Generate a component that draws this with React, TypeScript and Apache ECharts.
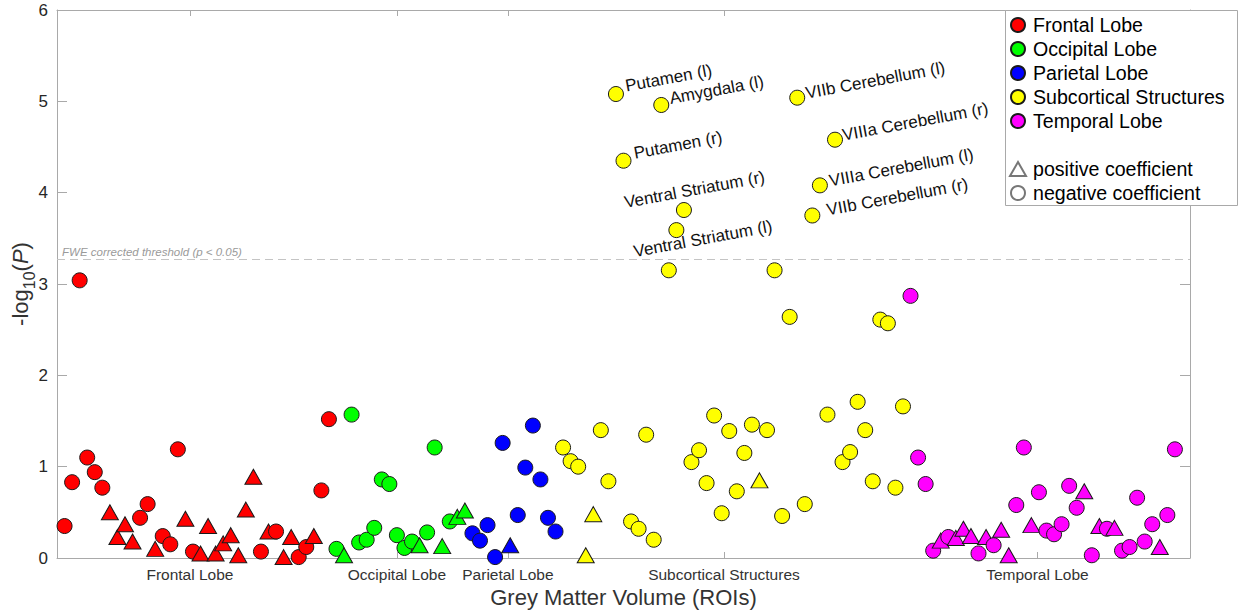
import React, { useEffect, useRef } from "react";
import * as echarts from "echarts";

// ---------- data ----------
const groupNames = ["Frontal Lobe", "Occipital Lobe", "Parietal Lobe", "Subcortical Structures", "Temporal Lobe"];
const groupColors = ["#ff0000", "#00ff00", "#0000ff", "#ffff00", "#ff00ff"];
const groupTickPos = [17.6, 45, 59.7, 88.3, 129.8];

// ROI index, -log10(P), sign (1 = positive coefficient / triangle, 0 = negative / circle)
const frontalIdx = [1, 2, 3, 4, 5, 6, 7, 8, 9, 10, 11, 12, 13, 14, 15, 16, 17, 18, 19, 20, 21, 22, 23, 24, 25, 26, 27, 28, 29, 30, 31, 32, 33, 34, 35, 36];
const frontalVal = [0.35, 0.83, 3.04, 1.10, 0.94, 0.77, 0.50, 0.23, 0.37, 0.18, 0.44, 0.59, 0.10, 0.24, 0.15, 1.19, 0.43, 0.07, 0.05, 0.35, 0.05, 0.16, 0.25, 0.03, 0.53, 0.89, 0.07, 0.29, 0.29, 0.01, 0.23, 0.01, 0.12, 0.24, 0.74, 1.52];
const frontalPos = [0, 0, 0, 0, 0, 0, 1, 1, 1, 1, 0, 0, 1, 0, 0, 0, 1, 0, 1, 1, 1, 1, 1, 1, 1, 1, 0, 1, 0, 1, 1, 0, 0, 1, 0, 0];

const occipitalIdx = [37, 38, 39, 40, 41, 42, 43, 44, 45, 46, 47, 48, 49, 50, 51, 52, 53, 54];
const occipitalVal = [0.10, 0.03, 1.57, 0.17, 0.20, 0.33, 0.86, 0.81, 0.25, 0.11, 0.18, 0.14, 0.28, 1.21, 0.13, 0.40, 0.45, 0.52];
const occipitalPos = [0, 1, 0, 0, 0, 0, 0, 0, 0, 0, 0, 1, 0, 0, 1, 0, 1, 1];

const parietalIdx = [55, 56, 57, 58, 59, 60, 61, 62, 63, 64, 65, 66];
const parietalVal = [0.27, 0.19, 0.36, 0.01, 1.26, 0.14, 0.47, 0.99, 1.45, 0.86, 0.44, 0.29];
const parietalPos = [0, 0, 0, 0, 0, 1, 0, 0, 0, 0, 0, 0];

const subcorticalIdx = [67, 68, 69, 70, 71, 72, 73, 74, 75, 76, 77, 78, 79, 80, 81, 82, 83, 84, 85, 86, 87, 88, 89, 90, 91, 92, 93, 94, 95, 96, 97, 98, 99, 100, 101, 102, 103, 104, 105, 106, 107, 108, 109, 110, 111, 112];
const subcorticalVal = [1.21, 1.06, 1.00, 0.03, 0.48, 1.40, 0.84, 5.08, 4.35, 0.40, 0.32, 1.35, 0.20, 4.96, 3.15, 3.59, 3.81, 1.05, 1.18, 0.82, 1.56, 0.49, 1.39, 0.73, 1.15, 1.46, 0.85, 1.40, 3.15, 0.46, 2.64, 5.04, 0.59, 3.75, 4.08, 1.57, 4.58, 1.05, 1.16, 1.71, 1.40, 0.84, 2.61, 2.57, 0.77, 1.66];
const subcorticalPos = [0, 0, 0, 1, 1, 0, 0, 0, 0, 0, 0, 0, 0, 0, 0, 0, 0, 0, 0, 0, 0, 0, 0, 0, 0, 0, 1, 0, 0, 0, 0, 0, 0, 0, 0, 0, 0, 0, 0, 0, 0, 0, 0, 0, 0, 0];

const temporalIdx = [113, 114, 115, 116, 117, 118, 119, 120, 121, 122, 123, 124, 125, 126, 127, 128, 129, 130, 131, 132, 133, 134, 135, 136, 137, 138, 139, 140, 141, 142, 143, 144, 145, 146, 147, 148];
const temporalVal = [2.87, 1.10, 0.81, 0.08, 0.19, 0.23, 0.22, 0.32, 0.24, 0.05, 0.23, 0.14, 0.31, 0.03, 0.58, 1.21, 0.36, 0.72, 0.30, 0.26, 0.37, 0.79, 0.55, 0.73, 0.03, 0.35, 0.32, 0.33, 0.08, 0.12, 0.66, 0.18, 0.37, 0.12, 0.47, 1.19];
const temporalPos = [0, 0, 0, 0, 1, 0, 1, 1, 1, 0, 1, 0, 1, 1, 0, 0, 1, 0, 0, 0, 0, 0, 0, 1, 0, 1, 0, 1, 0, 0, 0, 0, 0, 1, 0, 0];

const thresholdValue = 3.27;
const thresholdText = "FWE corrected threshold (p < 0.05)";

const labeledIdx = [74, 80, 98, 75, 103, 101, 100, 83, 82];
const labeledNames = ["Putamen (l)", "Amygdala (l)", "VIIb Cerebellum (l)", "Putamen (r)", "VIIIa Cerebellum (r)", "VIIIa Cerebellum (l)", "VIIb Cerebellum (r)", "Ventral Striatum (r)", "Ventral Striatum (l)"];

const yTitleParts = ["-log", "10", "(", "P", ")"];
const xTitle = "Grey Matter Volume (ROIs)";

// ---------- layout / style ----------
const labelOffsets = [[11, 0.5], [10, 2], [10, 4], [12, 1], [9, 4], [11, 4], [16, 3], [-58, 1], [-41, 30]];
const yTitleStyle = [
  { size: 22, italic: false, dy: 0 },
  { size: 16, italic: false, dy: 9 },
  { size: 22, italic: false, dy: 0 },
  { size: 22, italic: true, dy: 0 },
  { size: 22, italic: false, dy: 0 },
];
const FONT = '"Liberation Sans", Arial, Helvetica, sans-serif';
const AXIS_GRAY = "#a9a9a9";
const TEXT_DARK = "#262626";

const groups = [
  { idx: frontalIdx, val: frontalVal, pos: frontalPos },
  { idx: occipitalIdx, val: occipitalVal, pos: occipitalPos },
  { idx: parietalIdx, val: parietalVal, pos: parietalPos },
  { idx: subcorticalIdx, val: subcorticalVal, pos: subcorticalPos },
  { idx: temporalIdx, val: temporalVal, pos: temporalPos },
];

function buildData(idx: number[], val: number[], pos: number[]) {
  return idx.map((x, i) =>
    pos[i]
      ? { value: [x, val[i]], symbol: "triangle", symbolSize: [17, 15] }
      : { value: [x, val[i]], symbol: "circle", symbolSize: 15 }
  );
}

function measure(text: string, size: number, italic: boolean) {
  const c = document.createElement("canvas").getContext("2d");
  if (!c) return text.length * size * 0.55;
  c.font = `${italic ? "italic " : ""}${size}px ${FONT}`;
  return c.measureText(text).width;
}

export default function App() {
  const ref = useRef<HTMLDivElement>(null);

  useEffect(() => {
    document.body.style.margin = "0";
    const chart = echarts.init(ref.current!, undefined, { renderer: "svg" });

    const series: any[] = groups.map((g, gi) => ({
      type: "scatter",
      name: groupNames[gi],
      symbol: "circle",
      data: buildData(g.idx, g.val, g.pos),
      itemStyle: { color: groupColors[gi], borderColor: "#1a1a1a", borderWidth: 1, opacity: 1 },
      emphasis: { disabled: true },
      z: 2,
    }));
    series[0].markLine = {
      silent: true,
      symbol: ["none", "none"],
      lineStyle: { type: [8, 5], color: "#c4c4c4", width: 1 },
      label: {
        show: true,
        position: "insideStartTop",
        formatter: thresholdText,
        fontStyle: "italic",
        fontSize: 11.5,
        color: "#9a9a9a",
        fontFamily: FONT,
        distance: [5, 1],
      },
      data: [{ yAxis: thresholdValue }],
    };
    series.push({
      type: "scatter",
      name: "positive coefficient",
      symbol: "triangle",
      data: [],
      itemStyle: { color: "#ffffff", borderColor: "#555555", borderWidth: 1 },
    });
    series.push({
      type: "scatter",
      name: "negative coefficient",
      symbol: "circle",
      data: [],
      itemStyle: { color: "#ffffff", borderColor: "#555555", borderWidth: 1 },
    });

    const tickFmt = (v: number) => {
      const k = groupTickPos.findIndex((p) => Math.abs(p - v) < 1e-6);
      return k >= 0 ? groupNames[k] : "";
    };

    const xCommon = {
      type: "value",
      min: 0,
      max: 150,
      splitLine: { show: false },
      axisLine: { show: true, onZero: false, lineStyle: { color: AXIS_GRAY, width: 1 } },
      axisTick: { show: true, inside: true, length: 6, customValues: groupTickPos, lineStyle: { color: AXIS_GRAY } },
    };
    const yCommon = {
      type: "value",
      min: 0,
      max: 6,
      interval: 1,
      splitLine: { show: false },
      axisLine: { show: true, onZero: false, lineStyle: { color: AXIS_GRAY, width: 1 } },
      axisTick: { show: true, inside: true, length: 10, lineStyle: { color: AXIS_GRAY } },
    };

    const option: any = {
      animation: false,
      backgroundColor: "#ffffff",
      textStyle: { fontFamily: FONT },
      grid: { left: 57, right: 55, top: 10, bottom: 56 },
      xAxis: [
        {
          ...xCommon,
          position: "bottom",
          axisLabel: { show: true, customValues: groupTickPos, formatter: tickFmt, fontSize: 15.5, color: "#333333", margin: 8, fontFamily: FONT },
          name: xTitle,
          nameLocation: "middle",
          nameGap: 26,
          nameTextStyle: { fontSize: 22, color: "#333333", fontFamily: FONT },
        },
        { ...xCommon, position: "top", axisLabel: { show: false } },
      ],
      yAxis: [
        {
          ...yCommon,
          position: "left",
          axisLabel: { show: true, fontSize: 17, color: TEXT_DARK, margin: 9, fontFamily: FONT },
        },
        { ...yCommon, position: "right", axisLabel: { show: false } },
      ],
      legend: [
        {
          orient: "vertical",
          left: 1010,
          top: 15,
          padding: 0,
          itemWidth: 14,
          itemHeight: 14,
          itemGap: 4,
          selectedMode: false,
          z: 6,
          data: groupNames.map((n) => ({ name: n, icon: "circle" })),
          textStyle: { fontSize: 19.6, lineHeight: 20, color: "#000000", fontFamily: FONT, padding: [0, 0, 0, 3] },
        },
        {
          orient: "vertical",
          left: 1009,
          top: 159,
          padding: 0,
          itemWidth: 16,
          itemHeight: 14,
          itemGap: 4,
          selectedMode: false,
          z: 6,
          data: [
            { name: "positive coefficient", icon: "triangle" },
            { name: "negative coefficient", icon: "circle" },
          ],
          textStyle: { fontSize: 19.6, lineHeight: 20, color: "#000000", fontFamily: FONT, padding: [0, 0, 0, 2] },
        },
      ],
      series,
    };

    chart.setOption(option);

    const subSeriesIndex = 3;
    const texts = labeledIdx.map((xi, k) => {
      const vi = subcorticalIdx.indexOf(xi);
      const p = chart.convertToPixel({ seriesIndex: subSeriesIndex }, [xi, subcorticalVal[vi]]) as number[];
      const [dx, dy] = labelOffsets[k];
      return {
        type: "text",
        x: p[0] + dx,
        y: p[1] + dy,
        rotation: (10.5 * Math.PI) / 180,
        z: 5,
        silent: true,
        style: {
          text: labeledNames[k],
          x: 0,
          y: 0,
          fontSize: 17,
          fontFamily: FONT,
          fill: "#111111",
          textAlign: "left",
          textVerticalAlign: "bottom",
          align: "left",
          verticalAlign: "bottom",
        },
      };
    });

    // y-axis title: -log10(P) with subscript and italic P, rotated
    const widths = yTitleParts.map((t, i) => measure(t, yTitleStyle[i].size, yTitleStyle[i].italic));
    const total = widths.reduce((a, b) => a + b, 0);
    let cursor = -total / 2;
    const yTitleChildren = yTitleParts.map((t, i) => {
      const s = yTitleStyle[i];
      const el = {
        type: "text",
        x: cursor,
        y: s.dy,
        silent: true,
        style: {
          text: t,
          x: 0,
          y: 0,
          fontSize: s.size,
          fontStyle: s.italic ? "italic" : "normal",
          fontFamily: FONT,
          fill: "#333333",
          textAlign: "left",
          textVerticalAlign: "middle",
          align: "left",
          verticalAlign: "middle",
        },
      };
      cursor += widths[i];
      return el;
    });
    const yCenter = chart.convertToPixel({ seriesIndex: 0 }, [0, 3]) as number[];

    chart.setOption({
      graphic: [
        {
          type: "rect",
          left: 1005,
          top: 10,
          z: 4,
          silent: true,
          shape: { width: 232, height: 195 },
          style: { fill: "#ffffff", stroke: AXIS_GRAY, lineWidth: 1 },
        },
        {
          type: "group",
          x: 20,
          y: yCenter[1],
          rotation: Math.PI / 2,
          z: 5,
          silent: true,
          children: yTitleChildren,
        },
        ...texts,
      ],
    });

    return () => chart.dispose();
  }, []);

  return <div ref={ref} style={{ width: 1245, height: 614 }} />;
}
